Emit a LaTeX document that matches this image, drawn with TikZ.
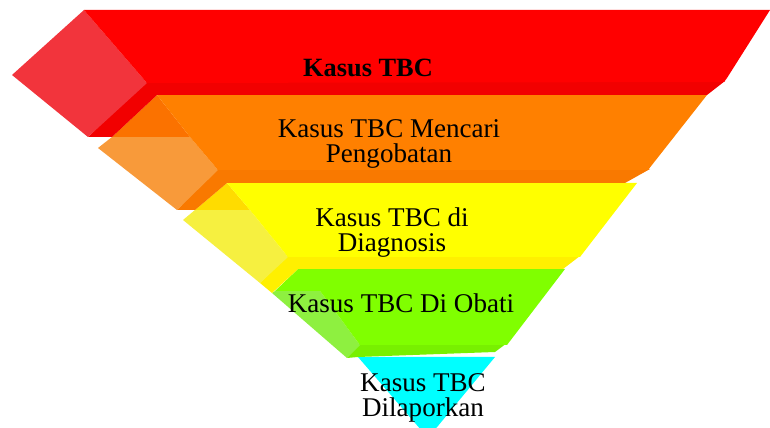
\documentclass[tikz,border=0pt]{standalone}
\usepackage{fontspec}
\setmainfont{Liberation Serif}
\definecolor{redfront}{HTML}{FF0000}
\definecolor{redband}{HTML}{F20000}
\definecolor{redside}{HTML}{F2343C}
\definecolor{orgfront}{HTML}{FF8000}
\definecolor{orgband}{HTML}{F97900}
\definecolor{orgtop}{HTML}{FB7200}
\definecolor{orgside}{HTML}{F89A3A}
\definecolor{yelfront}{HTML}{FFFF00}
\definecolor{yelband}{HTML}{FFF000}
\definecolor{yeltop}{HTML}{FFDC00}
\definecolor{yelside}{HTML}{F6F040}
\definecolor{grnfront}{HTML}{80FF00}
\definecolor{grnband}{HTML}{78F000}
\definecolor{grnside}{HTML}{8EF040}
\definecolor{cyanfront}{HTML}{00FFFF}

\begin{document}
\begin{tikzpicture}[x=0.02cm,y=-0.02cm,
  lbl/.style={font=\fontsize{15.4}{14.2}\selectfont,align=center,inner sep=0pt}]
\useasboundingbox (0,0) rectangle (770,428);
\clip (0,0) rectangle (770,428);

% cyan layer
\fill[cyanfront] (358,357) -- (495,357) -- (428,438) -- cycle;

% green layer
\fill[grnband] (358,344) -- (507,343) -- (495,352) -- (358,357) -- (347,358) -- cycle;
\fill[grnside] (320,291) -- (275,291) -- (272,293) -- (347,358) -- (360,345) -- cycle;
\fill[grnfront] (298,269) -- (565,269) -- (507,345) -- (360,345) -- (320,291) -- (275,291) -- cycle;

% yellow layer
\fill[yelband] (286,256) -- (580,256) -- (563,269) -- (298,269) -- (272,293) -- (260,283) -- cycle;
\fill[yelside] (250,210) -- (195,210) -- (183,220) -- (260,283) -- (288,257) -- cycle;
\fill[yeltop] (227,183) -- (195,210) -- (250,210) -- cycle;
\fill[yelfront] (227,183) -- (637,183) -- (580,257) -- (288,257) -- (250,210) -- cycle;

% orange layer
\fill[orgband] (216,169) -- (650,169) -- (625,183) -- (227,183) -- (195,210) -- (177,210) -- cycle;
\fill[orgside] (190,137) -- (112,137) -- (98,148) -- (177,210) -- (218,170) -- cycle;
\fill[orgtop] (157,95) -- (112,137) -- (190,137) -- cycle;
\fill[orgfront] (157,95) -- (707,95) -- (648,170) -- (218,170) -- (190,137) -- cycle;

% red layer
\fill[redband] (145,82) -- (725,81) -- (707,95) -- (157,95) -- (112,137) -- (88,137) -- cycle;
\fill[redside] (84,10) -- (12,75) -- (88,137) -- (147,83) -- cycle;
\fill[redfront] (84,10) -- (770,10) -- (727,78) -- (724,82) -- (147,83) -- cycle;

\node[lbl,anchor=base,font=\fontsize{15}{14.2}\selectfont\bfseries] (kasus) at (368,77) {Kasus TBC};
\node[lbl] (mencari) at (389,144) {Kasus TBC Mencari\\Pengobatan};
\node[lbl] (diagnosis) at (392,233) {Kasus TBC di\\Diagnosis};
\node[lbl,anchor=base] (obati) at (401,313) {Kasus TBC Di Obati};
\node[lbl] (lapor) at (423,398) {Kasus TBC\\Dilaporkan};
\end{tikzpicture}
\end{document}
